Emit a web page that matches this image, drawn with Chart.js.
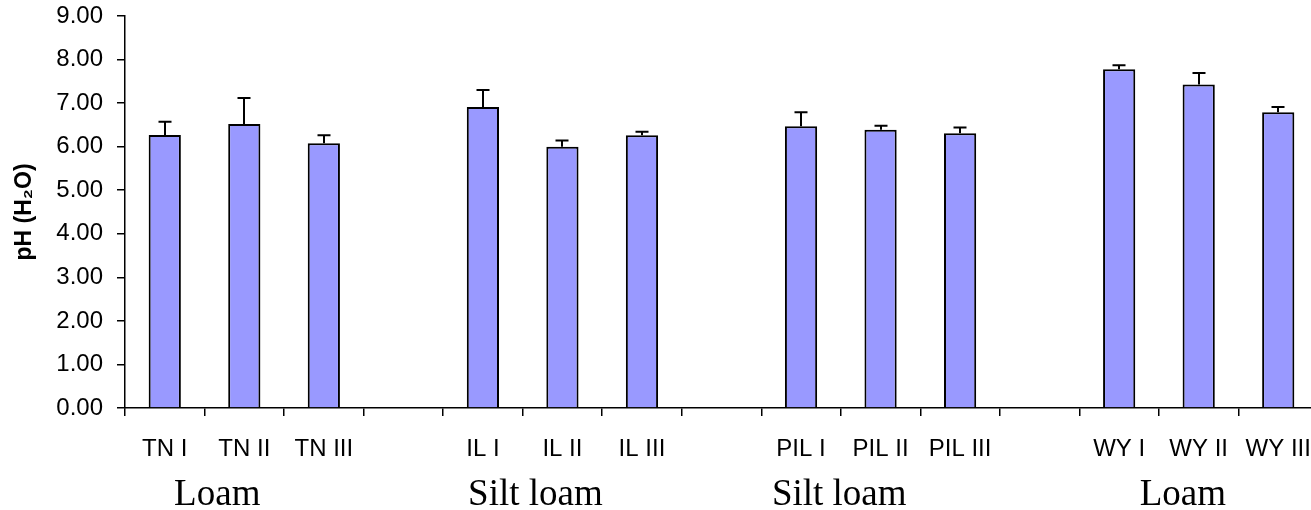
<!DOCTYPE html>
<html>
<head>
<meta charset="utf-8">
<script src="https://cdn.jsdelivr.net/npm/chart.js@4/dist/chart.umd.min.js"></script>
<style>
  html, body { margin: 0; padding: 0; background: #fff; overflow: hidden; }
  #wrap { width: 1311px; height: 510px; overflow: hidden; }
  canvas { display: block; }
</style>
</head>
<body>
<div id="wrap"><canvas id="c" width="1318" height="510" style="width:1318px;height:510px"></canvas></div>
<script>
// Sites (blank slots separate the four soil groups)
const categories = ['TN I', 'TN II', 'TN III', '', 'IL I', 'IL II', 'IL III', '', 'PIL I', 'PIL II', 'PIL III', '', 'WY I', 'WY II', 'WY III'];
// Mean pH (H2O) per site
const phValues = [6.27, 6.52, 6.08, null, 6.91, 6.00, 6.26, null, 6.47, 6.39, 6.31, null, 7.78, 7.43, 6.79];
// Standard deviation (drawn upward only)
const phErrors = [0.30, 0.60, 0.18, null, 0.39, 0.14, 0.08, null, 0.32, 0.09, 0.13, null, 0.09, 0.26, 0.12];
// Soil texture groups and the category position each caption is centred on
const textureLabels = ['Loam', 'Silt loam', 'Silt loam', 'Loam'];
const texturePositions = [0.66, 4.66, 8.48, 12.8];
// Y axis ticks
const yTicks = [0, 1, 2, 3, 4, 5, 6, 7, 8, 9];

const sansFont = '"Liberation Sans", Arial, sans-serif';
const serifFont = '"Liberation Serif", "Times New Roman", serif';

const errorBars = {
  id: 'errorBars',
  afterDatasetsDraw(chart) {
    const ctx = chart.ctx;
    const meta = chart.getDatasetMeta(0);
    const y = chart.scales.y;
    ctx.save();
    ctx.strokeStyle = '#000';
    ctx.lineWidth = 2;
    meta.data.forEach((bar, i) => {
      const v = phValues[i], e = phErrors[i];
      if (v == null || e == null) return;
      const x = Math.round(bar.x);
      const yTop = y.getPixelForValue(v);
      const yErr = y.getPixelForValue(v + e);
      ctx.beginPath();
      ctx.moveTo(x, yTop);
      ctx.lineTo(x, yErr);
      ctx.moveTo(x - 6.5, yErr);
      ctx.lineTo(x + 6.5, yErr);
      ctx.stroke();
    });
    ctx.restore();
  }
};

const textureCaptions = {
  id: 'textureCaptions',
  afterDraw(chart) {
    const ctx = chart.ctx;
    const x = chart.scales.x;
    ctx.save();
    ctx.fillStyle = '#000';
    ctx.font = '37px ' + serifFont;
    ctx.textAlign = 'center';
    ctx.textBaseline = 'alphabetic';
    textureLabels.forEach((t, i) => {
      ctx.fillText(t, x.getPixelForValue(texturePositions[i]), x.bottom - 5);
    });
    ctx.restore();
  }
};

new Chart(document.getElementById('c'), {
  type: 'bar',
  data: {
    labels: categories,
    datasets: [{
      data: phValues,
      backgroundColor: '#9999FF',
      borderColor: '#000',
      borderWidth: 2,
      borderSkipped: 'bottom',
      categoryPercentage: 1,
      barPercentage: 0.405
    }]
  },
  options: {
    responsive: false,
    animation: false,
    devicePixelRatio: 1,
    layout: { padding: { top: 16, right: 0, left: 0, bottom: 0 } },
    plugins: { legend: { display: false }, tooltip: { enabled: false } },
    scales: {
      x: {
        offset: true,
        border: { display: true, color: '#000', width: 1.5 },
        grid: { offset: true, drawOnChartArea: false, drawTicks: true, tickLength: 8, color: '#000', lineWidth: 1.5 },
        ticks: {
          color: '#000',
          font: { family: sansFont, size: 24 },
          padding: 19,
          maxRotation: 0,
          autoSkip: false
        },
        afterFit(s) { s.height = 102; s.paddingLeft = 0; s.paddingRight = 0; }
      },
      y: {
        min: 0,
        max: 9,
        afterBuildTicks(s) { s.ticks = yTicks.map(v => ({ value: v })); },
        border: { display: true, color: '#000', width: 1.5 },
        grid: { drawOnChartArea: false, drawTicks: true, tickLength: 8, color: '#000', lineWidth: 1.5 },
        ticks: {
          color: '#000',
          font: { family: sansFont, size: 24 },
          padding: 14,
          callback: v => Number(v).toFixed(2)
        },
        title: {
          display: true,
          text: 'pH (H₂O)',
          color: '#000',
          font: { family: sansFont, size: 23, weight: 'bold' },
          padding: { top: 11, bottom: 0 }
        },
        afterFit(s) { s.width = 125; s.paddingTop = 0; s.paddingBottom = 0; }
      }
    }
  },
  plugins: [errorBars, textureCaptions]
});
</script>
</body>
</html>
